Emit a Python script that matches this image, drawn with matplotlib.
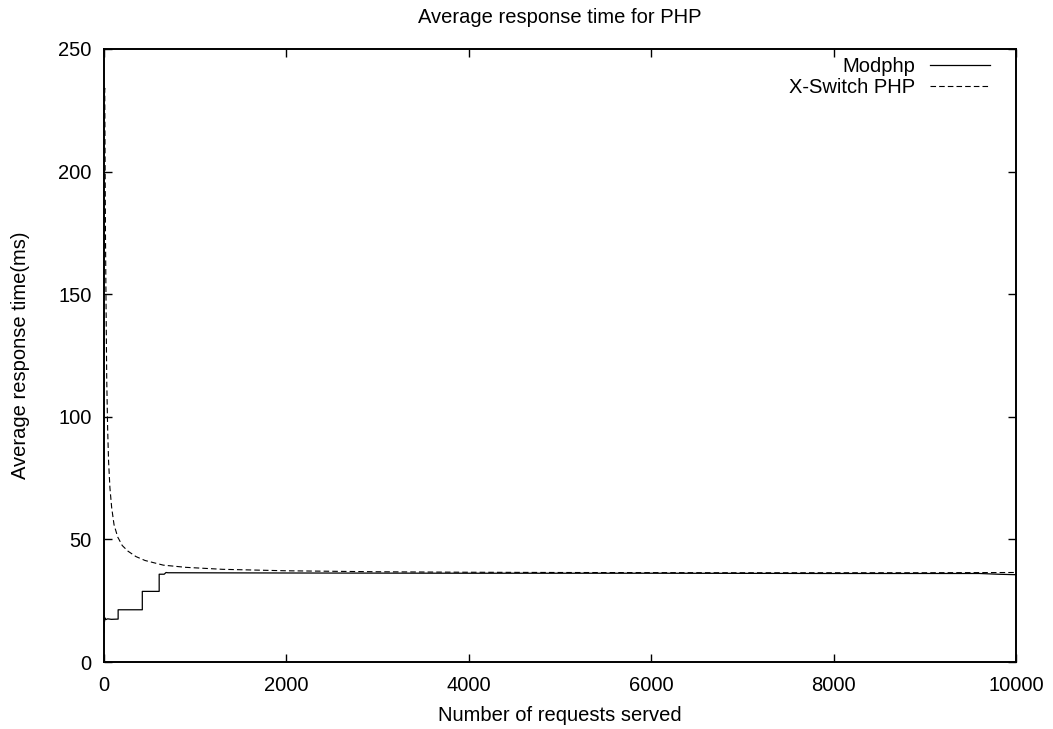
import matplotlib
matplotlib.use("Agg")
import matplotlib.pyplot as plt

plt.rcParams['font.family'] = ['Liberation Sans', 'DejaVu Sans']

title = "Average response time for PHP"
xlabel = "Number of requests served"
ylabel = "Average response time(ms)"
series_names = ["Modphp", "X-Switch PHP"]

mod_x = [0, 2, 5, 10, 20, 40, 80, 155, 155, 420, 420, 605, 605, 660, 680, 700,
         2000, 4000, 6000, 8000, 9600, 9800, 10000]
mod_y = [12, 19, 16.5, 18, 17.3, 17.6, 17.4, 17.5, 21.3, 21.3, 28.8, 28.8, 35.8,
         35.8, 36.5, 36.4, 36.3, 36.2, 36.2, 36.1, 36.1, 35.8, 35.6]

xs_x = [3, 8, 12, 16, 22, 30, 40, 50, 65, 84, 110, 150, 200, 263, 350, 450, 650,
        900, 1300, 2000, 3000, 4000, 5000, 7000, 9000, 10000]
xs_y = [230, 234, 205, 175, 148, 115, 95, 82, 71, 63, 56, 51, 47.5, 45.2, 43,
        41.4, 39.5, 38.6, 37.8, 37.2, 36.8, 36.6, 36.5, 36.4, 36.4, 36.5]

xticks = [0, 2000, 4000, 6000, 8000, 10000]
yticks = [0, 50, 100, 150, 200, 250]

FS = 14.5

fig = plt.figure(figsize=(10.53, 7.29), dpi=100)
ax = fig.add_axes([104/1053, 1-662/729, (1016-104)/1053, (662-49)/729])

ax.plot(mod_x, mod_y, color='black', lw=0.9, label=series_names[0])
ax.plot(xs_x, xs_y, color='black', lw=0.8, linestyle=(0, (5, 2.8)), label=series_names[1])

ax.set_xlim(0, 10000)
ax.set_ylim(0, 250)
ax.set_xticks(xticks)
ax.set_yticks(yticks)
ax.tick_params(direction='in', length=6, width=1, top=True, right=True,
               labelsize=FS, colors='black')
ax.tick_params(axis='x', pad=10)
ax.tick_params(axis='y', pad=9)
for s in ax.spines.values():
    s.set_linewidth(1.4)

ax.set_title(title, fontsize=FS, pad=19)
ax.set_xlabel(xlabel, fontsize=FS, labelpad=8)
ax.set_ylabel(ylabel, fontsize=FS, labelpad=20)

leg = ax.legend(loc='upper right', bbox_to_anchor=((990-104)/912, (662-57)/613),
                frameon=False, borderpad=0, borderaxespad=0,
                markerfirst=False, fontsize=FS, handlelength=3.0,
                handletextpad=0.7, labelspacing=0.1)

fig.savefig("out.png", dpi=100)
